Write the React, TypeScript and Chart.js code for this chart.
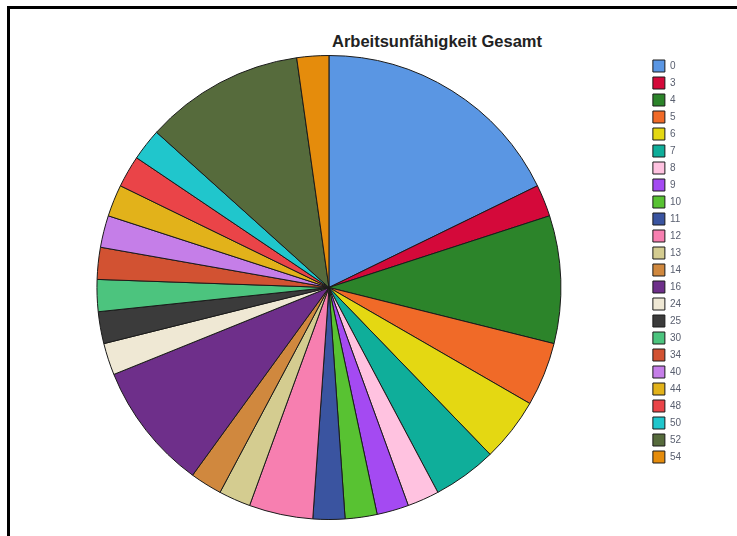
import React, { useEffect, useRef } from "react";
import { Chart, registerables } from "chart.js";

Chart.register(...registerables);

const titleText = "Arbeitsunfähigkeit Gesamt";
const categories = ["0", "3", "4", "5", "6", "7", "8", "9", "10", "11", "12", "13", "14", "16", "24", "25", "30", "34", "40", "44", "48", "50", "52", "54"];
const counts = [8, 1, 4, 2, 2, 2, 1, 1, 1, 1, 2, 1, 1, 4, 1, 1, 1, 1, 1, 1, 1, 1, 5, 1];
const sliceColors = [
  "#5a96e3", "#d4093a", "#2c842a", "#f06a28", "#e4d812", "#0fae9a", "#ffc2e0", "#a44af2",
  "#58c232", "#3a54a0", "#f77fb0", "#d4cc90", "#d0883e", "#6e2f8a", "#efe8d4", "#3b3b3b",
  "#4cc47e", "#d25232", "#c57ee8", "#e2b21a", "#ea4448", "#20c6cc", "#566b3c", "#e58c0c",
];

export default function App() {
  const canvasRef = useRef<HTMLCanvasElement | null>(null);

  useEffect(() => {
    if (!canvasRef.current) return;
    const chart = new Chart(canvasRef.current, {
      type: "pie",
      data: {
        labels: categories,
        datasets: [
          {
            data: counts,
            backgroundColor: sliceColors,
            borderColor: "#1a1a1a",
            borderWidth: 1,
          },
        ],
      },
      options: {
        animation: false,
        responsive: false,
        events: [],
        layout: { padding: { top: 55, bottom: 16, left: 10, right: 46 } },
        plugins: {
          title: { display: false },
          tooltip: { enabled: false },
          legend: {
            display: true,
            position: "right",
            align: "start",
            labels: {
              boxWidth: 12,
              boxHeight: 12,
              padding: 5,
              color: "#5a6070",
              font: { family: "'Liberation Sans', Arial, sans-serif", size: 10 },
            },
          },
        },
      },
    });
    return () => chart.destroy();
  }, []);

  return (
    <div style={{ position: "fixed", left: 0, top: 0, width: 737, height: 536, overflow: "hidden", background: "#fff" }}>
      <div
        style={{
          position: "absolute",
          left: 7,
          top: 6,
          width: 800,
          height: 700,
          border: "3px solid #000",
        }}
      />
      <div
        style={{
          position: "absolute",
          left: 237,
          width: 400,
          top: 33,
          textAlign: "center",
          fontFamily: "'Liberation Sans', Arial, sans-serif",
          fontWeight: "bold",
          fontSize: 16.5,
          lineHeight: "16px",
          color: "#222",
        }}
      >
        {titleText}
      </div>
      <canvas ref={canvasRef} width={737} height={536} style={{ position: "absolute", left: 0, top: 0, width: 737, height: 536 }} />
    </div>
  );
}
